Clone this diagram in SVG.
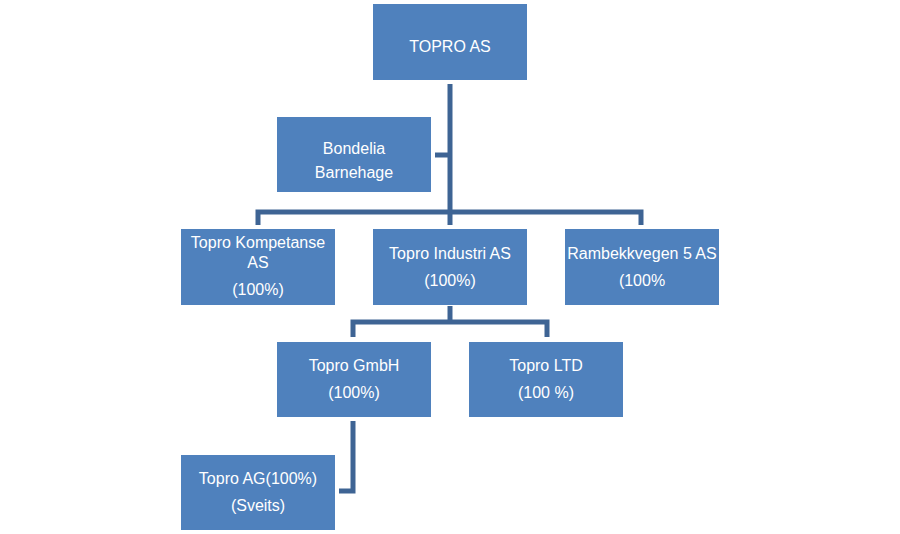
<svg xmlns="http://www.w3.org/2000/svg" width="900" height="534" viewBox="0 0 900 534">
<style>
.box{fill:#4F81BD}
.t{fill:#fff;font-family:"Liberation Sans",Arial,sans-serif;font-size:16px;text-anchor:middle}
.c{fill:none;stroke:#3E6494;stroke-width:5;stroke-linejoin:miter}
</style>
<rect width="900" height="534" fill="#fff"/>
<g id="connectors">
<path class="c" d="M450 84V225"/>
<path class="c" d="M435 155H450"/>
<path class="c" d="M258 225V212H641V225"/>
<path class="c" d="M450 306V322"/>
<path class="c" d="M353 337V322H547V337"/>
<path class="c" d="M353 421V491H339"/>
</g>
<g id="topro-as"><rect class="box" x="373" y="4" width="154" height="76"/><text class="t" x="450" y="52">TOPRO AS</text></g>
<g id="bondelia"><rect class="box" x="277" y="117" width="154" height="75"/><text class="t" x="354" y="154">Bondelia</text><text class="t" x="354" y="178">Barnehage</text></g>
<g id="kompetanse"><rect class="box" x="181" y="229" width="154" height="76"/><text class="t" x="258" y="248">Topro Kompetanse</text><text class="t" x="258" y="268">AS</text><text class="t" x="258" y="295">(100%)</text></g>
<g id="industri"><rect class="box" x="373" y="229" width="154" height="76"/><text class="t" x="450" y="259">Topro Industri AS</text><text class="t" x="450" y="286">(100%)</text></g>
<g id="rambekkvegen"><rect class="box" x="565" y="229" width="154" height="76"/><text class="t" x="642" y="259">Rambekkvegen 5 AS</text><text class="t" x="642" y="286">(100%</text></g>
<g id="gmbh"><rect class="box" x="277" y="342" width="154" height="75"/><text class="t" x="354" y="371">Topro GmbH</text><text class="t" x="354" y="398">(100%)</text></g>
<g id="ltd"><rect class="box" x="469" y="342" width="154" height="75"/><text class="t" x="546" y="371">Topro LTD</text><text class="t" x="546" y="398">(100 %)</text></g>
<g id="ag"><rect class="box" x="181" y="455" width="154" height="75"/><text class="t" x="258" y="484">Topro AG(100%)</text><text class="t" x="258" y="511">(Sveits)</text></g>
</svg>
